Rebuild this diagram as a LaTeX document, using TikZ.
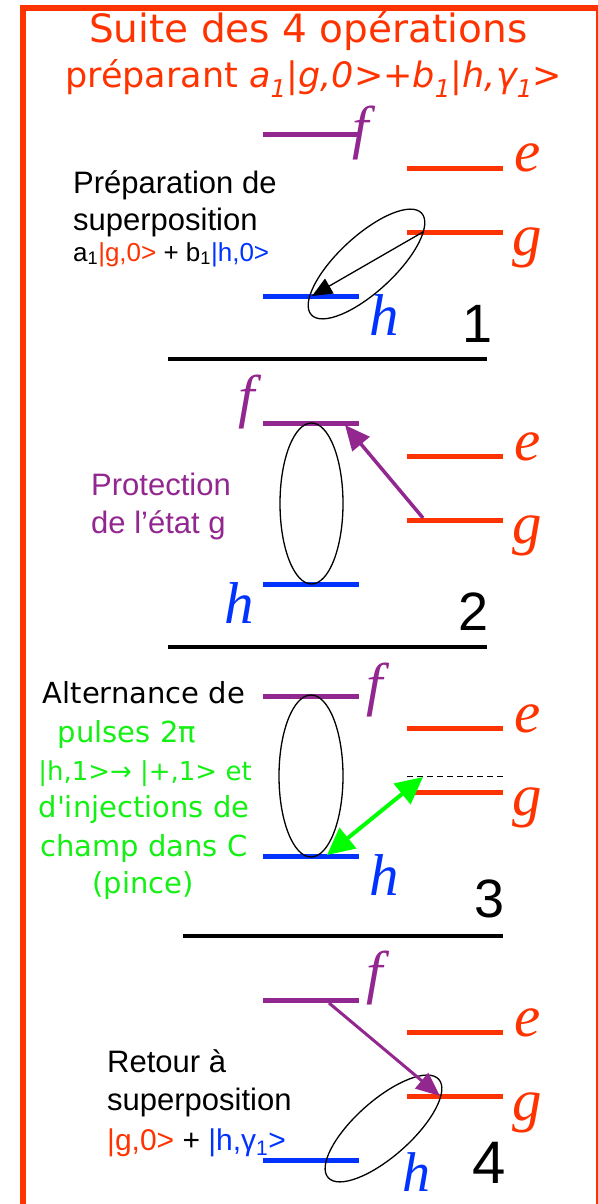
\documentclass[tikz,border=0pt]{standalone}
\usepackage{fontspec}
\setmainfont{Liberation Sans}
\newfontfamily\comic{DejaVu Sans}
\newfontfamily\serifit{Liberation Serif}
\usetikzlibrary{arrows.meta}
\definecolor{tred}{RGB}{255,51,0}
\definecolor{tpurple}{RGB}{146,39,143}
\definecolor{tblue}{RGB}{0,51,255}
\definecolor{tgreen}{RGB}{0,255,0}
\definecolor{tgreentext}{RGB}{20,240,20}
\begin{document}
\begin{tikzpicture}[x=1pt,y=-1pt,
  lvl/.style={line width=5pt},
  lvlf/.style={lvl,draw=tpurple},
  lvlr/.style={lvl,draw=tred},
  lvlh/.style={lvl,draw=tblue},
  sym/.style={font=\serifit\itshape\fontsize{59}{59}\selectfont,inner sep=0pt,anchor=base west},
  num/.style={font=\fontsize{54}{54}\selectfont,inner sep=0pt,anchor=base west},
  txt/.style={font=\fontsize{31}{38}\selectfont,inner sep=0pt,anchor=base west},
  smalltxt/.style={font=\fontsize{26}{28}\selectfont,inner sep=0pt,anchor=base west},
  ctxt/.style={font=\comic\fontsize{29}{34}\selectfont,inner sep=0pt,anchor=base},
  ttl/.style={font=\comic\fontsize{39}{44}\selectfont,text=tred,inner sep=0pt,anchor=base west},
  sepline/.style={line width=4pt,draw=black},
  oval/.style={draw=black,line width=1.3pt},
]
\useasboundingbox (0,0) rectangle (597,1204);
\draw[tred,line width=6pt] (23,8) rectangle (599,1230);

% title
\node[ttl] (t1) at (89,43) {Suite des 4 opérations};
\node[ttl,font=\comic\fontsize{35}{44}\selectfont] (t2) at (65,88) {préparant \textit{a\textsubscript{1}|g,0>+b\textsubscript{1}|h,γ\textsubscript{1}>}};

% ---------- section 1
\coordinate (f1a) at (263,135); \coordinate (f1b) at (359,135);
\coordinate (e1a) at (407,168); \coordinate (e1b) at (503,168);
\coordinate (g1a) at (407,232); \coordinate (g1b) at (503,232);
\coordinate (h1a) at (263,296); \coordinate (h1b) at (359,296);
\draw[lvlf] (f1a) -- (f1b);
\draw[lvlr] (e1a) -- (e1b);
\draw[lvlr] (g1a) -- (g1b);
\draw[lvlh] (h1a) -- (h1b);
\node[sym,text=tpurple] (lf1) at (352,147) {f};
\node[sym,text=tred] (le1) at (514,171) {e};
\node[sym,text=tred] (lg1) at (512,255) {g};
\node[sym,text=tblue] (lh1) at (369,335) {h};
\coordinate (o1) at (366.5,264);
\draw[oval,rotate around={42.7:(o1)}] (o1) ellipse (75 and 28);
\coordinate (a1s) at (423,232); \coordinate (a1e) at (312,296);
\draw[line width=1.3pt,-{Triangle[length=20pt,width=17pt]}] (a1s) -- (a1e);
\node[txt] (p1a) at (73,193) {Préparation de};
\node[txt] (p1b) at (73,230) {superposition};
\node[smalltxt] (p1c) at (73,261) {a\textsubscript{1}\textcolor{tred}{|g,0>} + b\textsubscript{1}\textcolor{tblue}{|h,0>}};
\node[num] (n1) at (462,342) {1};
\coordinate (s1a) at (168,359); \coordinate (s1b) at (487,359);
\draw[sepline] (s1a) -- (s1b);

% ---------- section 2
\coordinate (f2a) at (263,423); \coordinate (f2b) at (359,423);
\coordinate (e2a) at (407,456); \coordinate (e2b) at (503,456);
\coordinate (g2a) at (407,520); \coordinate (g2b) at (503,520);
\coordinate (h2a) at (263,584); \coordinate (h2b) at (359,584);
\draw[lvlf] (f2a) -- (f2b);
\draw[lvlr] (e2a) -- (e2b);
\draw[lvlr] (g2a) -- (g2b);
\draw[lvlh] (h2a) -- (h2b);
\node[sym,text=tpurple] (lf2) at (238,416) {f};
\node[sym,text=tred] (le2) at (514,460) {e};
\node[sym,text=tred] (lg2) at (512,543) {g};
\node[sym,text=tblue] (lh2) at (224,623) {h};
\coordinate (o2) at (311.5,503.5);
\draw[oval] (o2) ellipse (31.5 and 80.5);
\coordinate (a2s) at (423,518); \coordinate (a2e) at (345,425);
\draw[tpurple,line width=3.5pt,-{Triangle[length=25pt,width=22pt]}] (a2s) -- (a2e);
\node[txt,text=tpurple] (p2a) at (91,495) {Protection};
\node[txt,text=tpurple] (p2b) at (91,533) {de l’état g};
\node[num] (n2) at (458,630) {2};
\coordinate (s2a) at (168,647); \coordinate (s2b) at (487,647);
\draw[sepline] (s2a) -- (s2b);

% ---------- section 3
\coordinate (f3a) at (263,696); \coordinate (f3b) at (359,696);
\coordinate (e3a) at (407,728); \coordinate (e3b) at (503,728);
\coordinate (g3a) at (415,792); \coordinate (g3b) at (503,792);
\coordinate (h3a) at (263,856); \coordinate (h3b) at (359,856);
\coordinate (d3a) at (407,776); \coordinate (d3b) at (505,776);
\draw[lvlf] (f3a) -- (f3b);
\draw[lvlr] (e3a) -- (e3b);
\draw[lvlr] (g3a) -- (g3b);
\draw[lvlh] (h3a) -- (h3b);
\draw[black,line width=1pt,dash pattern=on 6pt off 4pt] (d3a) -- (d3b);
\node[sym,text=tpurple] (lf3) at (366,704) {f};
\node[sym,text=tred] (le3) at (514,732) {e};
\node[sym,text=tred] (lg3) at (512,815) {g};
\node[sym,text=tblue] (lh3) at (369,895) {h};
\coordinate (o3) at (311,776);
\draw[oval] (o3) ellipse (32 and 81);
\coordinate (a3s) at (327,855); \coordinate (a3e) at (423,777);
\draw[tgreen,line width=4pt,{Triangle[length=27pt,width=26pt]}-{Triangle[length=27pt,width=26pt]}] (a3s) -- (a3e);
\node[ctxt] (p3a) at (144,703) {Alternance de};
\node[ctxt,text=tgreentext] (p3b) at (127,742) {pulses 2π};
\node[ctxt,text=tgreentext,font=\comic\fontsize{26}{34}\selectfont] (p3c) at (145,780) {|h,1>→ |+,1> et};
\node[ctxt,text=tgreentext] (p3d) at (144,817) {d'injections de};
\node[ctxt,text=tgreentext] (p3e) at (144,856) {champ dans C};
\node[ctxt,text=tgreentext] (p3f) at (143,893) {(pince)};
\node[num] (n3) at (474,917) {3};
\coordinate (s3a) at (183,936); \coordinate (s3b) at (503,936);
\draw[sepline] (s3a) -- (s3b);

% ---------- section 4
\coordinate (f4a) at (263,1000); \coordinate (f4b) at (359,1000);
\coordinate (e4a) at (407,1032); \coordinate (e4b) at (503,1032);
\coordinate (g4a) at (407,1096); \coordinate (g4b) at (503,1096);
\coordinate (h4a) at (263,1160); \coordinate (h4b) at (359,1160);
\draw[lvlf] (f4a) -- (f4b);
\draw[lvlr] (e4a) -- (e4b);
\draw[lvlr] (g4a) -- (g4b);
\draw[lvlh] (h4a) -- (h4b);
\node[sym,text=tpurple] (lf4) at (366,992) {f};
\node[sym,text=tred] (le4) at (514,1036) {e};
\node[sym,text=tred] (lg4) at (512,1120) {g};
\node[sym,text=tblue,font=\serifit\itshape\fontsize{56}{56}\selectfont] (lh4) at (402,1191) {h};
\coordinate (o4) at (383.5,1128.5);
\draw[oval,rotate around={41.6:(o4)}] (o4) ellipse (74 and 28);
\coordinate (a4s) at (329,1003); \coordinate (a4e) at (440,1096);
\draw[tpurple,line width=3pt,-{Triangle[length=24pt,width=20pt]}] (a4s) -- (a4e);
\node[txt] (p4a) at (107,1072) {Retour à};
\node[txt] (p4b) at (107,1110) {superposition};
\node[smalltxt,font=\fontsize{30}{32}\selectfont] (p4c) at (107,1150) {\textcolor{tred}{|g,0>} + \textcolor{tblue}{|h,γ\textsubscript{1}>}};
\node[num,font=\fontsize{60}{60}\selectfont] (n4) at (472,1183) {4};
\end{tikzpicture}
\end{document}
